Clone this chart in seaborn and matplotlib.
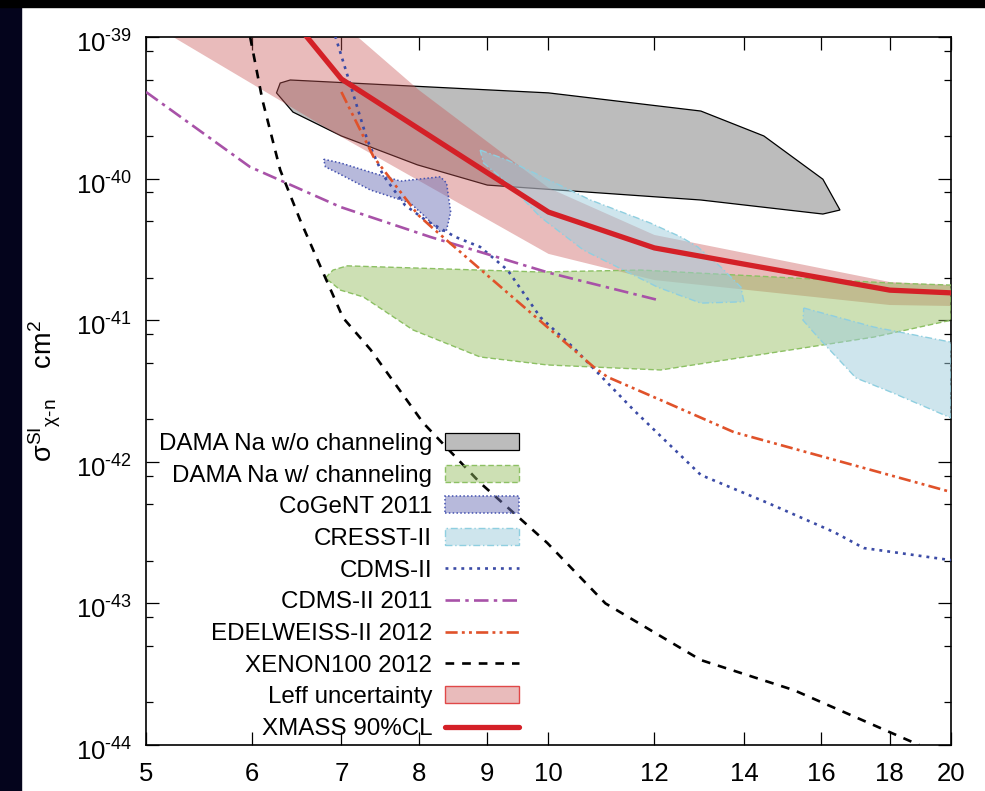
import matplotlib
matplotlib.use("Agg")
import matplotlib.pyplot as plt
import seaborn as sns
import pandas as pd
from matplotlib.patches import Patch, Rectangle
from matplotlib.lines import Line2D
from matplotlib.ticker import FixedLocator, NullLocator, LogLocator, NullFormatter
from matplotlib.transforms import ScaledTranslation

# ---------------- data (WIMP mass in GeV, cross section in cm^2) ----------------
xenon_m = [5.95, 6.11, 6.30, 6.52, 6.81, 7.02, 7.36, 8.06, 8.89, 9.98, 11.03, 13.0, 15.26, 18.93]
xenon_s = [1.3e-39, 3.59e-40, 1.15e-40, 5.1e-41, 1.99e-41, 1.04e-41, 6.2e-42, 1.88e-42,
           7.1e-43, 2.67e-43, 1.0e-43, 3.98e-44, 2.44e-44, 1.0e-44]

cdms_m = [6.87, 7.11, 7.32, 7.52, 7.81, 8.09, 8.52, 8.89, 9.32, 9.86, 10.44, 11.58, 13.0,
          14.59, 16.35, 17.21, 20.0]
cdms_s = [1.3e-39, 4.58e-40, 1.87e-40, 1.06e-40, 6.5e-41, 5.1e-41, 3.87e-41, 3.29e-41,
          2.26e-41, 1.05e-41, 6.4e-42, 2.32e-42, 8.07e-43, 5.12e-43, 3.19e-43, 2.46e-43, 2.02e-43]

edw_m = [7.00, 7.40, 7.68, 7.99, 8.19, 9.32, 10.81, 11.07, 12.13, 13.76, 20.0]
edw_s = [4.09e-40, 1.42e-40, 9.0e-41, 5.53e-41, 4.48e-41, 1.56e-41, 4.67e-42, 3.97e-42,
         2.73e-42, 1.62e-42, 6.12e-43]

cdms11_m = [5.0, 5.98, 6.99, 8.16, 10.03, 12.07]
cdms11_s = [4.09e-40, 1.21e-40, 6.3e-41, 3.87e-41, 2.15e-41, 1.39e-41]

xmass_m = [6.44, 7.0, 10.0, 12.0, 14.0, 18.0, 20.0]
xmass_s = [1.32e-39, 5.05e-40, 5.8e-41, 3.24e-41, 2.49e-41, 1.63e-41, 1.56e-41]

leff_hi_m = [5.0, 7.0, 8.0, 10.0, 12.0, 18.0, 20.0]
leff_hi_s = [1.9e-38, 1.26e-39, 4.22e-40, 8.6e-41, 4.0e-41, 1.86e-41, 1.77e-41]
leff_lo_m = [5.0, 7.0, 10.0, 12.0, 18.0, 20.0]
leff_lo_s = [1.3e-39, 1.97e-40, 2.94e-41, 1.92e-41, 1.28e-41, 1.26e-41]

dama_m = [6.26, 6.30, 6.41, 10.0, 13.0, 14.49, 16.04, 16.52, 16.04, 13.0, 9.0, 7.98, 7.0, 6.44]
dama_s = [4.03e-40, 4.73e-40, 4.97e-40, 4.03e-40, 3.0e-40, 2.0e-40, 9.9e-41, 6.0e-41,
          5.62e-41, 7.06e-41, 9.0e-41, 1.25e-40, 2.0e-40, 2.95e-40]

damach_m = [6.81, 6.90, 7.07, 9.86, 11.72, 18.03, 20.0, 20.0, 17.51, 14.34, 12.13, 9.98,
            8.89, 7.92, 7.27, 6.99]
damach_s = [1.99e-41, 2.26e-41, 2.42e-41, 2.19e-41, 2.26e-41, 1.83e-41, 1.77e-41, 1.0e-41,
            7.6e-42, 5.68e-42, 4.45e-42, 4.83e-42, 5.5e-42, 8.53e-42, 1.46e-41, 1.63e-41]

cogent_m = [6.79, 6.99, 7.36, 7.75, 8.30, 8.39, 8.45, 8.39, 8.30, 8.09, 7.88, 7.36, 6.95, 6.81]
cogent_s = [1.37e-40, 1.29e-40, 1.11e-40, 9.6e-41, 1.03e-40, 9.3e-41, 5.8e-41, 4.34e-41,
            4.2e-41, 5.36e-41, 6.73e-41, 8.3e-41, 1.1e-40, 1.21e-40]

cresst1_m = [8.89, 9.32, 10.75, 11.92, 12.56, 12.93, 13.45, 13.93, 14.0, 13.0, 12.07, 10.62,
             9.86, 9.32, 8.94]
cresst1_s = [1.59e-40, 1.35e-40, 7.06e-41, 4.85e-41, 3.87e-41, 3.29e-41, 2.38e-41, 1.71e-41,
             1.35e-41, 1.32e-41, 1.71e-41, 3.13e-41, 5.36e-41, 9.3e-41, 1.29e-40]
cresst2_m = [15.52, 17.51, 20.0, 20.0, 18.03, 16.98, 15.9, 15.5]
cresst2_s = [1.22e-41, 8.95e-42, 7.0e-42, 2.04e-42, 3.11e-42, 3.91e-42, 7.6e-42, 1.0e-41]

x_ticks = [5, 6, 7, 8, 9, 10, 12, 14, 16, 18, 20]
x_ticklabels = ["5", "6", "7", "8", "9", "10", "12", "14", "16", "18", "20"]
y_ticks = [1e-44, 1e-43, 1e-42, 1e-41, 1e-40, 1e-39]
y_ticklabels = [r"$10^{\text{-}44}$", r"$10^{\text{-}43}$", r"$10^{\text{-}42}$",
                r"$10^{\text{-}41}$", r"$10^{\text{-}40}$", r"$10^{\text{-}39}$"]

legend_labels = ["DAMA Na w/o channeling", "DAMA Na w/ channeling", "CoGeNT 2011", "CRESST-II",
                 "CDMS-II", "CDMS-II 2011", "EDELWEISS-II 2012", "XENON100 2012",
                 "Leff uncertainty", "XMASS 90%CL"]

# ---------------- style ----------------
sns.set_style("ticks")
plt.rcParams["font.family"] = ["Liberation Sans", "DejaVu Sans"]
plt.rcParams["mathtext.fontset"] = "custom"
plt.rcParams["mathtext.rm"] = "Liberation Sans"
plt.rcParams["mathtext.it"] = "Liberation Sans:italic"
plt.rcParams["mathtext.bf"] = "Liberation Sans:bold"
plt.rcParams["mathtext.sf"] = "Liberation Sans"
for k in ("text.color", "axes.labelcolor", "xtick.color", "ytick.color", "axes.edgecolor"):
    plt.rcParams[k] = "black"

grey_face = "#bcbcbc"
green_face = (149/255, 191/255, 96/255, 0.47)
green_edge = "#8cc063"
cogent_face = (113/255, 117/255, 185/255, 0.5)
cogent_edge = "#4452b0"
cresst_face = (159/255, 205/255, 221/255, 0.5)
cresst_edge = "#8fcfe0"
pink_face = (200/255, 85/255, 85/255, 0.4)
blue = "#3b4ba6"
purple = "#a852a8"
orange = "#e0522a"
red = "#d42027"

ls_dot = (0, (1.1, 1.9))
ls_dashdot = (0, (5.5, 2.0, 1.3, 2.0))
ls_dashdotdot = (0, (4.6, 1.6, 1.1, 1.6, 1.1, 1.6))
ls_dash = (0, (3.3, 3.0))
lw_thin = 1.9

W, H = 985, 791
fig = plt.figure(figsize=(W / 100, H / 100), dpi=100, facecolor="white")
fig.patches.append(Rectangle((0, 0), 21 / W, 1, transform=fig.transFigure, color="#04041c", zorder=-10))
fig.patches.append(Rectangle((0, 1 - 7 / H), 1, 7 / H, transform=fig.transFigure, color="black", zorder=-10))

ax = fig.add_axes([146 / W, 1 - 745 / H, (951 - 146) / W, (745 - 37) / H])
ax.set_xscale("log")
ax.set_yscale("log")
ax.set_xlim(5, 20)
ax.set_ylim(1e-44, 1e-39)

# regions
ax.fill(dama_m, dama_s, facecolor=grey_face, edgecolor="black", linewidth=0.9, zorder=1)
ax.fill(leff_hi_m + leff_lo_m[::-1], leff_hi_s + leff_lo_s[::-1], facecolor=pink_face,
        edgecolor="none", zorder=2)
ax.fill(damach_m, damach_s, facecolor=green_face, edgecolor=green_edge, linewidth=1.0,
        linestyle=(0, (4, 2)), zorder=3)
ax.fill(cogent_m, cogent_s, facecolor=cogent_face, edgecolor=cogent_edge, linewidth=1.1,
        linestyle=(0, (1, 1.5)), zorder=3)
for cm, cs in ((cresst1_m, cresst1_s), (cresst2_m, cresst2_s)):
    ax.fill(cm, cs, facecolor=cresst_face, edgecolor=cresst_edge, linewidth=1.0,
            linestyle=(0, (5, 2, 1, 2)), zorder=3)

# limit curves via seaborn
def curve(m, s, **kw):
    df = pd.DataFrame({"m": m, "s": s})
    sns.lineplot(data=df, x="m", y="s", ax=ax, sort=False, estimator=None, **kw)

curve(cdms_m, cdms_s, color=blue, linewidth=lw_thin, linestyle=ls_dot, zorder=5)
curve(cdms11_m, cdms11_s, color=purple, linewidth=lw_thin, linestyle=ls_dashdot, zorder=5)
curve(edw_m, edw_s, color=orange, linewidth=lw_thin, linestyle=ls_dashdotdot, zorder=5)
curve(xenon_m, xenon_s, color="black", linewidth=lw_thin, linestyle=ls_dash, zorder=5)
curve(xmass_m, xmass_s, color=red, linewidth=3.8, linestyle="-", zorder=6)

ax.set_xlim(5, 20)
ax.set_ylim(1e-44, 1e-39)
ax.set_xlabel("")
ax.set_ylabel("")

# ticks
ax.xaxis.set_major_locator(FixedLocator(x_ticks))
ax.xaxis.set_minor_locator(NullLocator())
ax.set_xticklabels(x_ticklabels)
ax.yaxis.set_major_locator(FixedLocator(y_ticks))
ax.set_yticklabels(y_ticklabels)
ax.yaxis.set_minor_locator(LogLocator(base=10, subs=(2, 5, 8), numticks=20))
ax.yaxis.set_minor_formatter(NullFormatter())
ax.tick_params(which="both", direction="in", top=True, right=True, color="black",
               labelcolor="black")
ax.tick_params(which="major", length=9.5, width=0.9, labelsize=18.5)
ax.tick_params(which="minor", length=5, width=0.9)
ax.tick_params(axis="x", pad=12)
ax.tick_params(axis="y", pad=10)
shift = ScaledTranslation(0, -7 / 100, fig.dpi_scale_trans)
for lbl in ax.get_yticklabels():
    lbl.set_verticalalignment("center")
    lbl.set_transform(lbl.get_transform() + shift)
for sp in ax.spines.values():
    sp.set_color("black")
    sp.set_linewidth(1.2)
    sp.set_visible(True)

fig.text(45 / W, 1 - 391 / H, r"$\mathrm{σ}^{\mathrm{SI}}{}_{\mathrm{χ\text{-}n}}$    cm$^{2}$",
         rotation=90, ha="center", va="center", fontsize=19.5, color="black")

handles = [
    Patch(facecolor=grey_face, edgecolor="black", linewidth=0.9),
    Patch(facecolor=green_face, edgecolor=green_edge, linewidth=1.0, linestyle=(0, (4, 2))),
    Patch(facecolor=cogent_face, edgecolor=cogent_edge, linewidth=1.1, linestyle=(0, (1, 1.5))),
    Patch(facecolor=cresst_face, edgecolor=cresst_edge, linewidth=1.0, linestyle=(0, (5, 2, 1, 2))),
    Line2D([], [], color=blue, linewidth=lw_thin, linestyle=ls_dot),
    Line2D([], [], color=purple, linewidth=lw_thin, linestyle=ls_dashdot),
    Line2D([], [], color=orange, linewidth=lw_thin, linestyle=ls_dashdotdot),
    Line2D([], [], color="black", linewidth=lw_thin, linestyle=ls_dash),
    Patch(facecolor=pink_face, edgecolor="#e04848", linewidth=1.0),
    Line2D([], [], color=red, linewidth=3.8),
]
leg = ax.legend(handles, legend_labels, loc="upper right", bbox_to_anchor=(519 / W, 1 - 433 / H),
                bbox_transform=fig.transFigure, frameon=False, markerfirst=False, fontsize=17.4,
                handlelength=3.05, handleheight=0.7, handletextpad=0.55, labelspacing=0.4,
                borderpad=0, borderaxespad=0)
for t in leg.get_texts():
    t.set_color("black")

fig.savefig("out.png", dpi=100, facecolor=fig.get_facecolor())
